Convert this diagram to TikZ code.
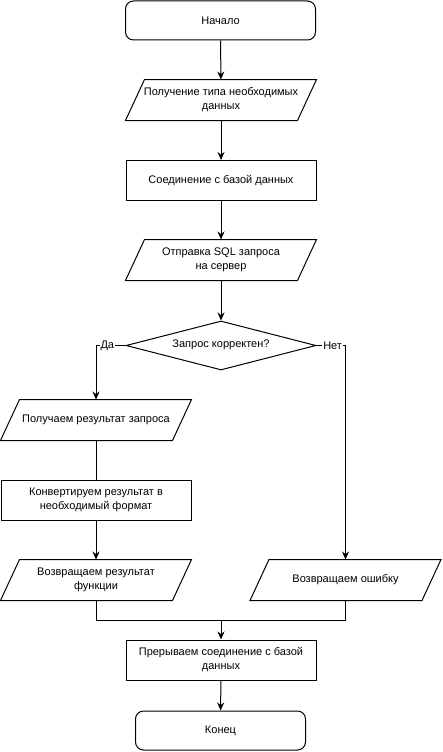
\documentclass[tikz,border=0pt]{standalone}
\usepackage{fontspec}
\setmainfont{Liberation Sans}
\usetikzlibrary{shapes.geometric,arrows.meta}
\tikzset{
  x=1pt,y=-1pt,
  every node/.style={font=\fontsize{11}{14}\selectfont,align=center},
  terminal/.style={draw,rounded corners=8pt,minimum width=190,minimum height=39,inner sep=0},
  procbox/.style={draw,minimum width=190,minimum height=40,inner sep=0},
  iobox/.style={minimum width=171,minimum height=40,inner sep=0,
    append after command={\pgfextra{\draw
      ([xshift=9.5]\tikzlastnode.north west) -- ([xshift=9.5]\tikzlastnode.north east)
      -- ([xshift=-9.5]\tikzlastnode.south east) -- ([xshift=-9.5]\tikzlastnode.south west)
      -- cycle;}}},
  decision/.style={draw,diamond,aspect=3.9,minimum width=190,minimum height=49,inner sep=0},
  flow/.style={-{Stealth[length=8pt,width=7pt]}},
  branch/.style={fill=white,inner sep=1pt,font=\fontsize{11}{13}\selectfont}
}
\begin{document}
\begin{tikzpicture}[line width=1pt]
      \useasboundingbox (0,0) rectangle (442,752);
      % main column
      \node[terminal] (start)   at (220.5, 20.5) {Начало};
      \node[iobox]    (gettype) at (221, 100) {Получение типа необходимых\\данных};
      \node[procbox]  (connect) at (221, 180.5) {Соединение с базой данных};
      \node[iobox]    (sendsql) at (221, 260) {Отправка SQL запроса\\на сервер};
      \node[decision] (check)   at (221, 345.5) {\raisebox{4pt}{Запрос корректен?}};
      % left branch
      \node[iobox]    (getres)  at (96, 420) {Получаем результат запроса};
      \node[procbox]  (convert) at (96, 500) {Конвертируем результат в\\необходимый формат};
      \node[iobox]    (retres)  at (96, 580) {Возвращаем результат\\функции};
      % right branch
      \node[iobox]    (reterr)  at (345.5, 580) {Возвращаем ошибку};
      % end
      \node[procbox]  (close)   at (221, 660) {Прерываем соединение с базой\\данных};
      \node[terminal,minimum width=170] (stop) at (220.5, 730.5) {Конец};
      \coordinate (merge) at (221, 620);
      \coordinate (yes) at (getres.north |- check.west);
      \coordinate (no)  at (reterr.north |- check.east);

      \draw[flow] (start) -- (gettype);
      \draw[flow] (gettype) -- (connect);
      \draw[flow] (connect) -- (sendsql);
      \draw[flow] (sendsql) -- (check);
      \draw[flow] (check.west) -- (yes) -- (getres.north);
      \draw[flow] (check.east) -- (no) -- (reterr.north);
      \node[branch,anchor=west] at ([xshift=3]yes) {Да};
      \node[branch,anchor=east] at ([xshift=-2]no) {Нет};
      \draw (getres) -- (convert);
      \draw[flow] (convert) -- (retres);
      \draw (retres.south) |- (merge);
      \draw (reterr.south) |- (merge);
      \draw[flow] (merge) -- (close);
      \draw[flow] (close) -- (stop);
    \end{tikzpicture}
\end{document}
